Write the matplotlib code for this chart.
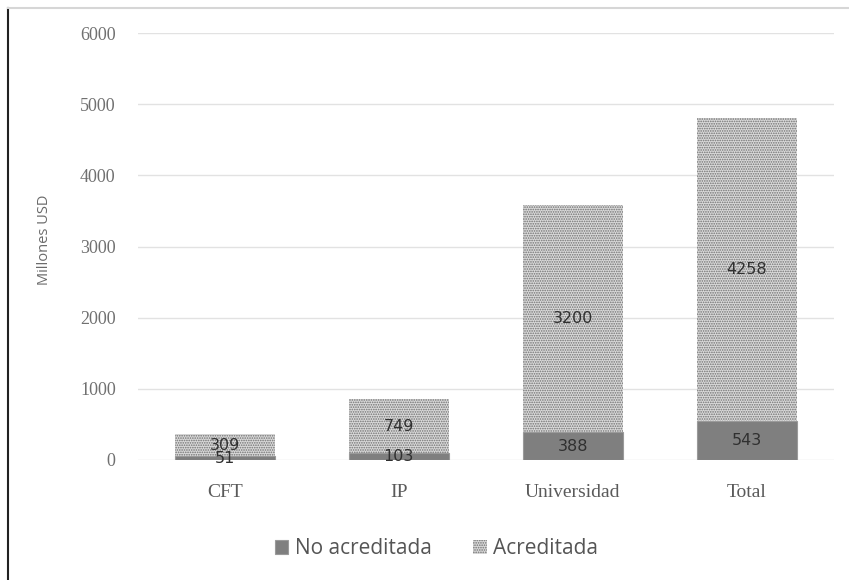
import matplotlib
matplotlib.use("Agg")
import matplotlib.pyplot as plt
from matplotlib.lines import Line2D
import numpy as np

categories = ["CFT", "IP", "Universidad", "Total"]
no_acreditada = [51, 103, 388, 543]
acreditada = [309, 749, 3200, 4258]
y_ticks = [0, 1000, 2000, 3000, 4000, 5000, 6000]
series_names = ["No acreditada", "Acreditada"]

plt.rcParams["hatch.linewidth"] = 0.8

fig = plt.figure(figsize=(8.49, 5.8), dpi=100)
ax = fig.add_axes([0.1625, 0.2069, 0.8195, 0.7361])

x = np.arange(len(categories))
w = 0.575
dark = "#7f7f7f"

b1 = ax.bar(x, no_acreditada, width=w, color=dark, edgecolor="#9a9a9a",
            linewidth=0.8, zorder=3, label=series_names[0])
b2 = ax.bar(x, acreditada, width=w, bottom=no_acreditada, color="#dadada",
            edgecolor="#707070", hatch=".......", linewidth=0, zorder=3,
            label=series_names[1])

for xi, v in zip(x, no_acreditada):
    ax.text(xi, v / 2, str(v), ha="center", va="center", fontsize=11.5,
            color="#303030", family="DejaVu Sans", zorder=5)
for xi, base, v in zip(x, no_acreditada, acreditada):
    ax.text(xi, base + v / 2, str(v), ha="center", va="center", fontsize=11.5,
            color="#303030", family="DejaVu Sans", zorder=5)

ax.set_xlim(-0.5, len(categories) - 0.5)
ax.set_ylim(0, 6000)
ax.set_yticks(y_ticks)
ax.set_yticklabels([str(t) for t in y_ticks], family="Liberation Serif",
                   fontsize=13, color="#707070")
ax.set_xticks(x)
ax.set_xticklabels(categories, family="Liberation Serif", fontsize=14,
                   color="#5a5a5a")
ax.tick_params(axis="both", length=0)
ax.tick_params(axis="y", pad=16)
ax.tick_params(axis="x", pad=17)
ax.yaxis.grid(True, color="#e2e2e2", linewidth=1, zorder=0)
ax.set_axisbelow(True)
for s in ax.spines.values():
    s.set_visible(False)

ax.set_ylabel("Millones USD", family="Open Sans", fontsize=10.5, color="#6a6a6a")
ax.yaxis.set_label_coords(-0.124, 0.515)

leg = fig.legend(handles=[b1, b2], labels=series_names, loc="center",
                 bbox_to_anchor=(0.514, 0.054), ncol=2, frameon=False,
                 prop={"family": "Open Sans", "size": 15}, handlelength=0.65,
                 handleheight=0.65, handletextpad=0.3, columnspacing=2.0,
                 labelcolor="#555555")

# outer frame lines
fig.add_artist(Line2D([8 / 849, 8 / 849], [0, 1 - 8 / 580], color="#222222",
                      linewidth=1.5, transform=fig.transFigure))
fig.add_artist(Line2D([8 / 849, 1], [1 - 8 / 580, 1 - 8 / 580], color="#d6d6d6",
                      linewidth=1.5, transform=fig.transFigure))

fig.savefig("out.png", dpi=100)
